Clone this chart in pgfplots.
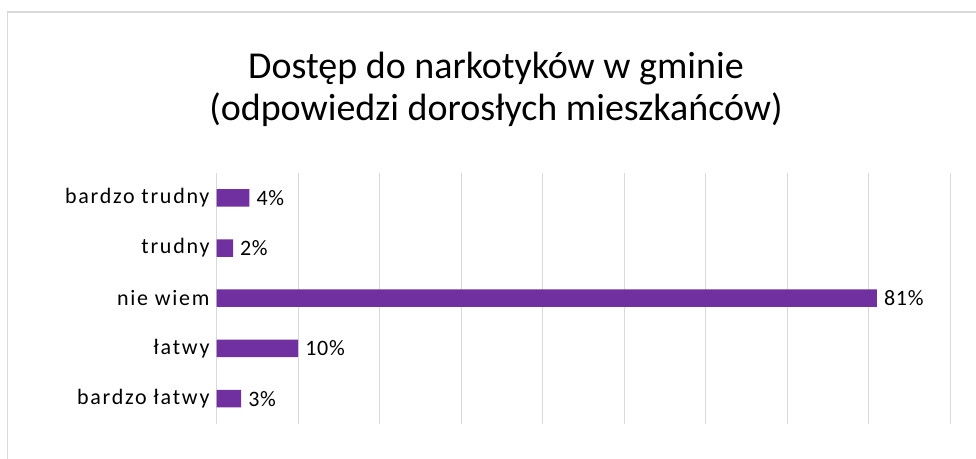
\documentclass[border=0pt]{standalone}
\usepackage{pgfplots}
\pgfplotsset{compat=1.18}
\usepackage{fontspec}
\setmainfont{Carlito}
\newfontfamily\labelfont[LetterSpace=8]{Carlito}
\newfontfamily\valuefont[LetterSpace=3]{Carlito}
\definecolor{barpurple}{HTML}{7030A0}
\definecolor{gridgray}{HTML}{D9D9D9}
\begin{document}
\begin{tikzpicture}[x=1pt,y=1pt]
% page size of the reference, y going down
\path[use as bounding box] (0,0) rectangle (976,-458);
\draw[gridgray, line width=1.3pt] (7.5,-470) -- (7.5,-12) -- (990,-12);
\node[anchor=base, font=\fontsize{38}{45}\selectfont] at (496,-78) {Dostęp do narkotyków w gminie};
\node[anchor=base, font=\fontsize{38}{45}\selectfont] at (496,-120) {(odpowiedzi dorosłych mieszkańców)};
\begin{axis}[
  at={(216.7pt,-423.7pt)}, anchor=south west,
  scale only axis, width=733.6pt, height=251pt,
  xbar, bar width=17.5pt,
  xmin=0, xmax=90, ymin=-0.5, ymax=4.5,
  xtick={0,10,...,90}, xticklabels={},
  ytick={0,1,2,3,4},
  yticklabels={bardzo łatwy, łatwy, nie wiem, trudny, bardzo trudny},
  yticklabel style={font=\labelfont\fontsize{22}{25}\selectfont, inner sep=7pt},
  xmajorgrids,
  grid style={draw=gridgray, line width=1.3pt},
  axis line style={draw=none},
  major tick length=0pt,
  /pgf/number format/assume math mode=true,
  nodes near coords={\pgfmathprintnumber{\pgfplotspointmeta}\%},
  nodes near coords style={font=\valuefont\fontsize{22}{25}\selectfont, anchor=west, inner sep=7pt},
]
\addplot[fill=barpurple, draw=none] coordinates {(3,0) (10,1) (81,2) (2,3) (4,4)};
\end{axis}
\end{tikzpicture}
\end{document}
